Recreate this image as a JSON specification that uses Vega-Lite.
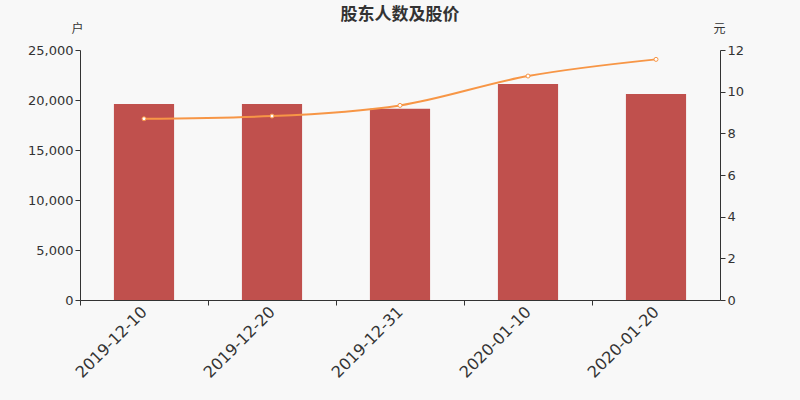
{
  "$schema": "https://vega.github.io/schema/vega-lite/v6.json",
  "autosize": "none",
  "width": 640,
  "height": 250,
  "padding": {"left": 80, "top": 50, "right": 80, "bottom": 100},
  "background": "#f8f8f8",
  "config": {
    "view": {"stroke": null},
    "font": "DejaVu Sans",
    "axis": {"domainColor": "#333333", "tickColor": "#333333", "labelColor": "#333333", "titleColor": "#333333", "grid": false}
  },
  "title": {"text": "股东人数及股价", "fontSize": 17, "fontWeight": "bold", "color": "#333333", "anchor": "middle", "offset": -2, "font": "Noto Sans CJK SC"},
  "data": {"values": [
    {"date": "2019-12-10", "holders": 19600, "price": 8.70},
    {"date": "2019-12-20", "holders": 19600, "price": 8.83},
    {"date": "2019-12-31", "holders": 19130, "price": 9.34},
    {"date": "2020-01-10", "holders": 21600, "price": 10.75},
    {"date": "2020-01-20", "holders": 20600, "price": 11.55}
  ]},
  "encoding": {
    "x": {"field": "date", "type": "ordinal", "sort": null,
      "scale": {"paddingInner": 0.53, "paddingOuter": 0.265},
      "axis": {"title": null, "labelAngle": -45, "labelFontSize": 16, "labelAlign": "right", "labelBaseline": "middle", "tickOffset": -64, "labelOffset": 64, "tickSize": 5, "labelPadding": 4}}
  },
  "layer": [
    {
      "mark": {"type": "bar", "color": "#c0504d"},
      "encoding": {
        "y": {"field": "holders", "type": "quantitative", "scale": {"domain": [0, 25000]},
          "axis": {"title": "户", "titleAngle": 0, "titleX": -3, "titleY": -22, "titleAlign": "center", "titleBaseline": "middle", "titleFontSize": 12, "titleFontWeight": "normal", "titleFont": "Noto Sans CJK SC", "values": [0, 5000, 10000, 15000, 20000, 25000], "format": ",.0f", "labelOverlap": false, "labelFontSize": 13, "tickSize": 5}}
      }
    },
    {
      "mark": {"type": "line", "color": "#f79646", "strokeWidth": 2, "interpolate": "monotone", "point": {"filled": true, "fill": "white", "stroke": "#f79646", "strokeWidth": 1, "size": 16}},
      "encoding": {
        "y": {"field": "price", "type": "quantitative", "scale": {"domain": [0, 12]},
          "axis": {"orient": "right", "title": "元", "titleAngle": 0, "titleX": -1, "titleY": -22, "titleAlign": "center", "titleBaseline": "middle", "titleFontSize": 12, "titleFontWeight": "normal", "titleFont": "Noto Sans CJK SC", "values": [0, 2, 4, 6, 8, 10, 12], "labelFontSize": 13, "tickSize": 5}}
      }
    }
  ],
  "resolve": {"scale": {"y": "independent"}}
}
